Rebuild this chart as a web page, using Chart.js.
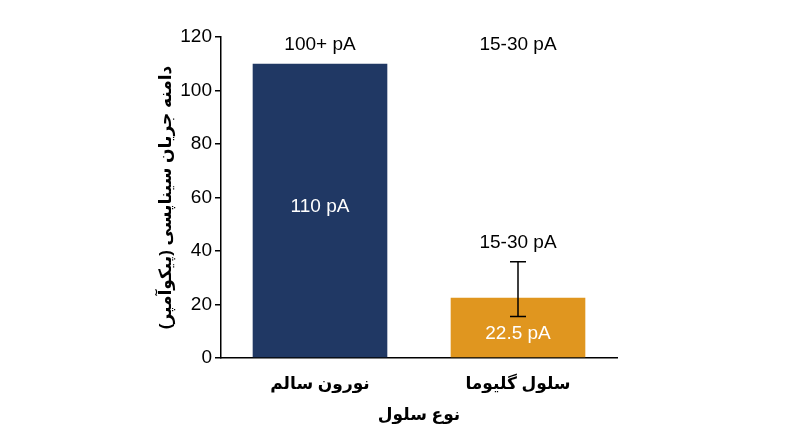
<!DOCTYPE html>
<html>
<head>
<meta charset="utf-8">
<script src="https://cdn.jsdelivr.net/npm/chart.js@4"></script>
<style>
  html, body { margin: 0; padding: 0; background: #fff; }
  #wrap { width: 800px; height: 447px; }
</style>
</head>
<body>
<div id="wrap"><canvas id="chart"></canvas></div>
<script>
const categories = ['نورون سالم', 'سلول گلیوما'];
const amplitudes = [110, 22.5];
const barLabels = ['110 pA', '22.5 pA'];
const rangeLabels = ['100+ pA', '15-30 pA'];
const errLow = [null, 15.5];
const errHigh = [null, 36];
const errLabels = [null, '15-30 pA'];
const barColors = ['#203864', '#e0961f'];

const FONT = "'Liberation Sans', 'DejaVu Sans', Arial, sans-serif";

// text and error bar drawn on top of the bars
const annotations = {
    id: 'annotations',
    afterDatasetsDraw(chart) {
        const ctx = chart.ctx;
        const x = chart.scales.x;
        const y = chart.scales.y;
        ctx.save();
        ctx.textAlign = 'center';
        ctx.textBaseline = 'middle';
        ctx.font = '19px ' + FONT;

        categories.forEach((c, i) => {
            const cx = x.getPixelForValue(i);

            ctx.fillStyle = '#000';
            ctx.fillText(rangeLabels[i], cx, y.getPixelForValue(y.max) + 8);

            // label inside the bar
            const mid = i === 0 ? amplitudes[i] * 0.514 : amplitudes[i] * 0.4;
            ctx.fillStyle = '#fff';
            ctx.fillText(barLabels[i], cx, y.getPixelForValue(mid));

            if (errHigh[i] != null) {
                const top = y.getPixelForValue(errHigh[i]);
                const bot = y.getPixelForValue(errLow[i]);
                ctx.strokeStyle = '#000';
                ctx.lineWidth = 1.5;
                ctx.beginPath();
                ctx.moveTo(cx, top);
                ctx.lineTo(cx, bot);
                ctx.moveTo(cx - 8, top);
                ctx.lineTo(cx + 8, top);
                ctx.moveTo(cx - 8, bot);
                ctx.lineTo(cx + 8, bot);
                ctx.stroke();

                ctx.fillStyle = '#000';
                ctx.fillText(errLabels[i], cx, top - 19);
            }
        });
        ctx.restore();
    }
};

new Chart(document.getElementById('chart'), {
    type: 'bar',
    data: {
        labels: categories,
        datasets: [{
            data: amplitudes,
            backgroundColor: barColors,
            categoryPercentage: 1,
            barPercentage: 0.68
        }]
    },
    plugins: [annotations],
    options: {
        responsive: true,
        maintainAspectRatio: false,
        animation: false,
        layout: { padding: { left: 152, right: 183, top: 37, bottom: 17 } },
        plugins: {
            legend: { display: false },
            tooltip: { enabled: false }
        },
        scales: {
            x: {
                grid: { display: false },
                border: { display: true, color: '#000', width: 1.5 },
                ticks: {
                    color: '#000',
                    padding: 8,
                    font: { family: FONT, size: 17, weight: 'bold' }
                },
                title: {
                    display: true,
                    text: 'نوع سلول',
                    color: '#000',
                    padding: { top: 4 },
                    font: { family: FONT, size: 17, weight: 'bold' }
                },
                afterFit(scale) { scale.height = 72; }
            },
            y: {
                min: 0,
                max: 120,
                grid: { drawOnChartArea: false, drawTicks: true, tickLength: 6, color: '#000', lineWidth: 1.5 },
                border: { display: true, color: '#000', width: 1.5 },
                ticks: {
                    stepSize: 20,
                    color: '#000',
                    padding: 3,
                    font: { family: FONT, size: 19 }
                },
                title: {
                    display: true,
                    text: 'دامنه جریان سیناپسی (پیکوآمپر)',
                    color: '#000',
                    padding: { bottom: 0 },
                    font: { family: FONT, size: 17, weight: 'bold' }
                },
                afterFit(scale) { scale.width = 69; }
            }
        }
    }
});
</script>
</body>
</html>
